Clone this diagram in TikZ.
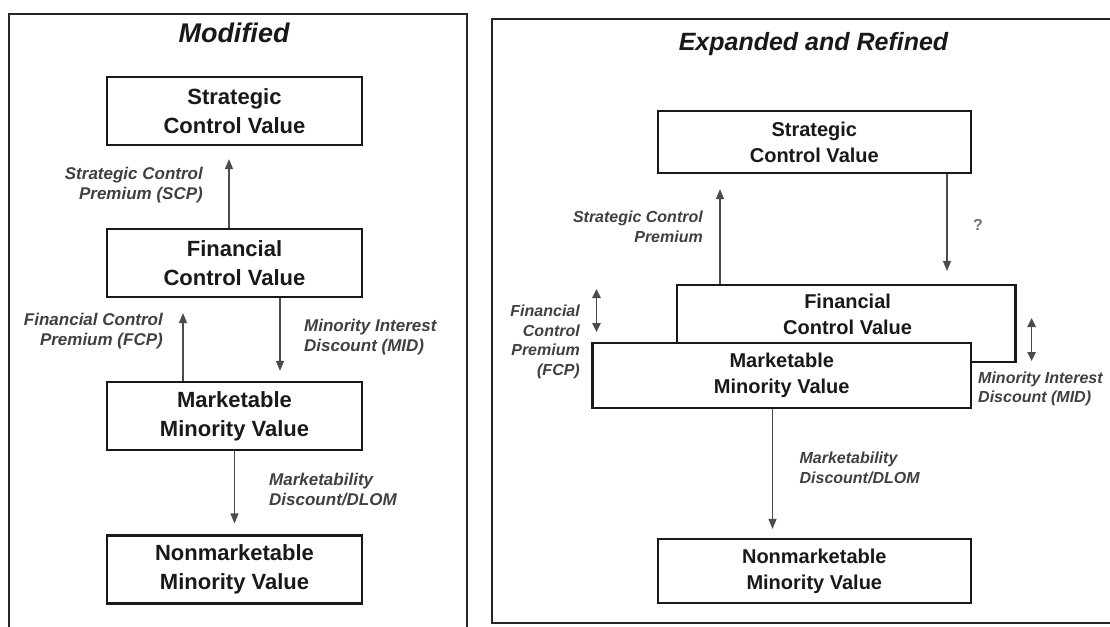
\documentclass[tikz,border=0pt]{standalone}
\usepackage{fontspec}
\setmainfont{Liberation Sans}
\usetikzlibrary{arrows.meta}
\begin{document}
\begin{tikzpicture}[x=1pt,y=-1pt,
  frame/.style={line width=2pt, draw=black!85},
  bigbox/.style={draw=black!90, line width=2.2pt, fill=white, minimum width=255pt,
    minimum height=68pt, inner sep=0pt, align=center,
    font=\fontsize{22}{29}\selectfont\bfseries, text=black!90},
  smallbox/.style={draw=black!90, line width=2.2pt, fill=white, inner sep=0pt,
    align=center, font=\fontsize{20}{26}\selectfont\bfseries, text=black!90},
  boxtext/.style={inner sep=0pt, align=center,
    font=\fontsize{20}{26}\selectfont\bfseries, text=black!90},
  arr/.style={draw=black!70, line width=1.3pt, -{Triangle[width=8pt,length=10pt]}},
  darr/.style={draw=black!70, line width=1.3pt,
    {Triangle[width=8.5pt,length=9pt]}-{Triangle[width=8.5pt,length=9pt]}},
  biglab/.style={font=\fontsize{17}{20}\selectfont\bfseries\itshape, text=black!75, inner sep=0pt},
  smalllab/.style={font=\fontsize{16}{19.5}\selectfont\bfseries\itshape, text=black!75, inner sep=0pt},
  title/.style={inner sep=0pt, text=black!90},
]
\useasboundingbox (0,0) rectangle (1110,626);
\clip (0,0) rectangle (1110,626);
\fill[white] (0,0) rectangle (1110,626);

% ---------- left panel: modified chain ----------
\draw[frame] (9,640) -- (9,14) -- (467,14) -- (467,640);
\node[title, font=\fontsize{27}{30}\selectfont\bfseries\itshape] (titleL) at (234,33) {Modified};

\node[bigbox] (scvL) at (234.5,111)   {Strategic\\Control Value};
\node[bigbox] (fcvL) at (234.5,263)   {Financial\\Control Value};
\node[bigbox] (mmvL) at (234.5,416)   {Marketable\\Minority Value};
\node[bigbox] (nmvL) at (234.5,569.5) {Nonmarketable\\Minority Value};

\draw[arr] ([xshift=-5.5pt]fcvL.north) -- ([xshift=-5.5pt,yshift=-13pt]scvL.south);
\draw[arr] ([xshift=-51.5pt]mmvL.north) -- ([xshift=-51.5pt,yshift=-15pt]fcvL.south);
\draw[arr] ([xshift=45.5pt]fcvL.south) -- ([xshift=45.5pt,yshift=10pt]mmvL.north);
\draw[arr] (mmvL.south) -- ([yshift=11pt]nmvL.north);

\node[biglab, anchor=east, align=right] (scpL) at (203,185) {Strategic Control\\Premium (SCP)};
\node[biglab, anchor=east, align=right] (fcpL) at (163,331) {Financial Control\\Premium (FCP)};
\node[biglab, anchor=west, align=left]  (midL) at (304,337) {Minority Interest\\Discount (MID)};
\node[biglab, anchor=west, align=left]  (dlomL) at (269,490) {Marketability\\Discount/DLOM};

% ---------- right panel: expanded and refined chain ----------
\draw[frame] (1120,19) -- (492,19) -- (492,623) -- (1120,623);
\node[title, font=\fontsize{25}{28}\selectfont\bfseries\itshape] (titleR) at (813.5,44) {Expanded and Refined};

\node[smallbox, minimum width=313.4pt, minimum height=62pt] (scvR) at (814.3,142) {Strategic\\Control Value};
\node[smallbox, minimum width=338.5pt, minimum height=77pt] (fcvR) at (846.3,323.5) {};
\node[boxtext] (fcvRtext) at (847.6,314) {Financial\\Control Value};
\node[smallbox, minimum width=378.5pt, minimum height=65pt] (mmvR) at (781.75,375.5) {Marketable\\Minority Value};
\node[smallbox, minimum width=313.4pt, minimum height=64pt] (nmvR) at (814.3,571) {Nonmarketable\\Minority Value};

\draw[arr] ([xshift=-126.3pt]fcvR.north) -- ([xshift=-94.3pt,yshift=-15pt]scvR.south);
\draw[arr] ([xshift=132.7pt]scvR.south) -- ([xshift=100.7pt,yshift=13pt]fcvR.north);
\draw[arr] ([xshift=-9.25pt]mmvR.south) -- ([xshift=-41.8pt,yshift=9pt]nmvR.north);

\coordinate (fcpTop) at (596.5,289);
\coordinate (fcpBot) at (596.5,332);
\coordinate (midTop) at (1031.6,318);
\coordinate (midBot) at (1031.6,361);
\draw[darr] (fcpTop) -- (fcpBot);
\draw[darr] (midTop) -- (midBot);

\node[smalllab, anchor=east, align=right] (scpR) at (703,227) {Strategic Control\\Premium};
\node[smalllab, font=\fontsize{16}{19.5}\selectfont\bfseries, text=black!55] (qR) at (978,225) {?};
\node[smalllab, anchor=east, align=right] (fcpR) at (580,342) {Financial\\Control\\Premium\\(FCP)};
\node[smalllab, anchor=west, align=left]  (midR) at (978,389) {Minority Interest\\Discount (MID)};
\node[smalllab, anchor=west, align=left]  (dlomR) at (799.4,468) {Marketability\\Discount/DLOM};
\end{tikzpicture}
\end{document}
